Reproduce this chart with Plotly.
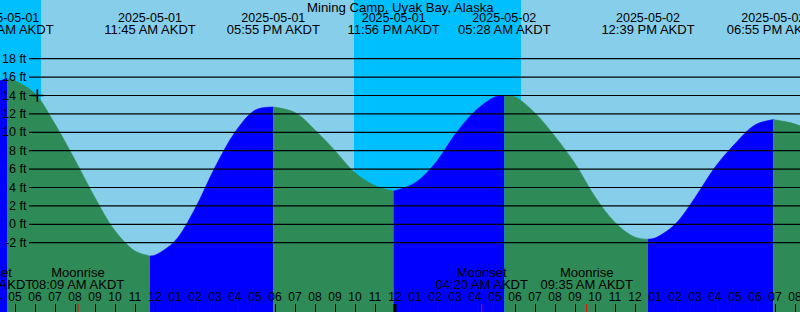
import pandas as pd
import plotly.graph_objects as go

# ---------------- data ----------------
station = "Mining Camp, Uyak Bay, Alaska"
tz_label = "AKDT"

tide_times = ["2025-05-01 04:37", "2025-05-01 11:45", "2025-05-01 17:55",
              "2025-05-01 23:56", "2025-05-02 05:28", "2025-05-02 12:39",
              "2025-05-02 18:55"]
tide_kinds = ["High", "Low", "High", "Low", "High", "Low", "High"]
tide_heights = [15.85, -3.44, 12.75, 3.62, 14.0, -1.63, 11.38]

# hourly water levels (ft), 2025-05-01 04:00 .. 2025-05-02 21:00
hour_start = "2025-05-01 04:00"
hour_heights = [15.45, 15.6, 14.2, 10.9, 7.0, 2.9, -0.7, -2.9, -3.35, -1.8,
                1.7, 6.2, 10.0, 12.4, 12.74, 12.15, 10.25, 8.0, 5.6, 4.2,
                3.63, 4.5, 6.6, 9.75, 12.3, 13.85, 13.85, 12.1, 9.55, 6.6,
                3.0, 0.2, -1.4, -1.5, 0.0, 2.9, 6.2, 8.75, 10.8, 11.37,
                10.9, 10.0]

moon_times = ["2025-05-01 03:36", "2025-05-01 08:09", "2025-05-02 04:20", "2025-05-02 09:35"]
moon_events = ["Moonset", "Moonrise", "Moonset", "Moonrise"]

night_starts = ["2025-04-30 21:55", "2025-05-01 21:57"]
night_ends = ["2025-05-01 06:18", "2025-05-02 06:18"]

now_time = "2025-05-01 06:07"
now_height = 14.0

grid_levels = [-2, 0, 2, 4, 6, 8, 10, 12, 14, 16, 18]
view_start, view_end = "2025-05-01 04:15", "2025-05-02 20:15"
y_range = [-9.53, 24.38]

# ---------------- style ----------------
C_DAY, C_NIGHT = "#87CEEB", "#00BFFF"
C_RISE, C_FALL = "#0000FF", "#2E8B57"
FAM = "Liberation Sans, Arial, sans-serif"
FONT = dict(family=FAM, size=12.5, color="black")
FONT_L = dict(family=FAM, size=13, color="black")
FONT_S = dict(family=FAM, size=12, color="black")
W, H = 800, 312

ev = pd.DataFrame({"t": pd.to_datetime(tide_times), "h": tide_heights, "kind": tide_kinds})
hr = pd.DataFrame({"t": pd.date_range(hour_start, periods=len(hour_heights), freq="h"),
                   "h": hour_heights})
near = hr.t.apply(lambda t: (abs(ev.t - t) < pd.Timedelta(minutes=15)).any())
hr = hr[~near]
pts = pd.concat([ev[["t", "h"]], hr]).sort_values("t").reset_index(drop=True)

fig = go.Figure()

bounds = [pts.t.min()] + list(ev.t) + [pts.t.max()]
for i in range(len(bounds) - 1):
    seg = pts[(pts.t >= bounds[i]) & (pts.t <= bounds[i + 1])]
    if i < len(ev):
        rising = ev.kind[i] == "High"
    else:
        rising = ev.kind.iloc[-1] == "Low"
    col = C_RISE if rising else C_FALL
    fig.add_trace(go.Scatter(x=seg.t, y=[y_range[0]] * len(seg), mode="lines",
                             line=dict(width=0), hoverinfo="skip", showlegend=False))
    fig.add_trace(go.Scatter(x=seg.t, y=seg.h, mode="lines",
                             line=dict(width=0.6, color=col, shape="spline"),
                             fill="tonexty", fillcolor=col, hoverinfo="skip",
                             showlegend=False))

# current-time marker
fig.add_trace(go.Scatter(x=[now_time], y=[now_height], mode="markers",
                         marker=dict(symbol="cross-thin", size=9,
                                     line=dict(width=1.6, color="black")),
                         showlegend=False, hoverinfo="skip"))

# tide event labels (top)
fig.add_trace(go.Scatter(x=ev.t, y=[19] * len(ev), yaxis="y2", mode="text",
                         text=[t.strftime("%Y-%m-%d") for t in ev.t],
                         textfont=FONT, showlegend=False, hoverinfo="skip"))
fig.add_trace(go.Scatter(x=ev.t, y=[31] * len(ev), yaxis="y2", mode="text",
                         text=[t.strftime("%I:%M %p") + " " + tz_label for t in ev.t],
                         textfont=FONT_L, showlegend=False, hoverinfo="skip"))

# moon labels (bottom)
mt = pd.to_datetime(moon_times)
fig.add_trace(go.Scatter(x=mt, y=[273.5] * len(mt), yaxis="y2", mode="text",
                         text=moon_events, textfont=FONT_L, showlegend=False, hoverinfo="skip"))
fig.add_trace(go.Scatter(x=mt, y=[285.5] * len(mt), yaxis="y2", mode="text",
                         text=[t.strftime("%I:%M %p") + " " + tz_label for t in mt],
                         textfont=FONT_L, showlegend=False, hoverinfo="skip"))

# hour labels
hours = pd.date_range("2025-05-01 04:00", "2025-05-02 20:00", freq="h")
fig.add_trace(go.Scatter(x=hours, y=[298] * len(hours), yaxis="y2", mode="text",
                         text=[t.strftime("%I") for t in hours], textfont=FONT_S,
                         showlegend=False, hoverinfo="skip"))

shapes = []
for s, e in zip(night_starts, night_ends):
    shapes.append(dict(type="rect", xref="x", yref="paper", x0=s, x1=e, y0=0, y1=1,
                       fillcolor=C_NIGHT, line=dict(width=0), layer="below"))
for lv in grid_levels:
    shapes.append(dict(type="line", xref="paper", yref="y", x0=29 / W, x1=1, y0=lv, y1=lv,
                       line=dict(color="black", width=1.2), layer="above"))
for d in pd.date_range("2025-05-01", "2025-05-03", freq="D"):
    shapes.append(dict(type="line", xref="x", yref="paper", x0=d, x1=d, y0=0, y1=8 / H,
                       line=dict(color="black", width=3), layer="above"))
for t in mt:
    shapes.append(dict(type="line", xref="x", yref="paper", x0=t, x1=t, y0=0, y1=8 / H,
                       line=dict(color="red", width=1), layer="above"))

annotations = [dict(text=station, xref="paper", yref="paper", x=0.5, y=1 - 7 / H,
                    showarrow=False, font=dict(family=FAM, size=13.2, color="black"),
                    xanchor="center", yanchor="middle")]
for lv in grid_levels:
    annotations.append(dict(text=f"{lv} ft", xref="paper", yref="y", x=28 / W, y=lv,
                            xanchor="right", yanchor="middle", showarrow=False, font=FONT,
                            borderpad=0))

fig.update_layout(
    width=W, height=H, margin=dict(l=0, r=0, t=0, b=0),
    paper_bgcolor=C_DAY, plot_bgcolor=C_DAY,
    shapes=shapes, annotations=annotations, showlegend=False,
    xaxis=dict(type="date", range=[view_start, view_end], showgrid=False, zeroline=False,
               showline=False, ticks="inside", ticklen=8, tickwidth=1, tickcolor="black",
               dtick=3600000, tick0="2025-05-01 00:00", showticklabels=False,
               fixedrange=True),
    yaxis=dict(range=y_range, showgrid=False, zeroline=False, showticklabels=False,
               ticks="", fixedrange=True),
    yaxis2=dict(range=[H, 0], overlaying="y", visible=False, fixedrange=True),
)

fig.write_html("out.html")
